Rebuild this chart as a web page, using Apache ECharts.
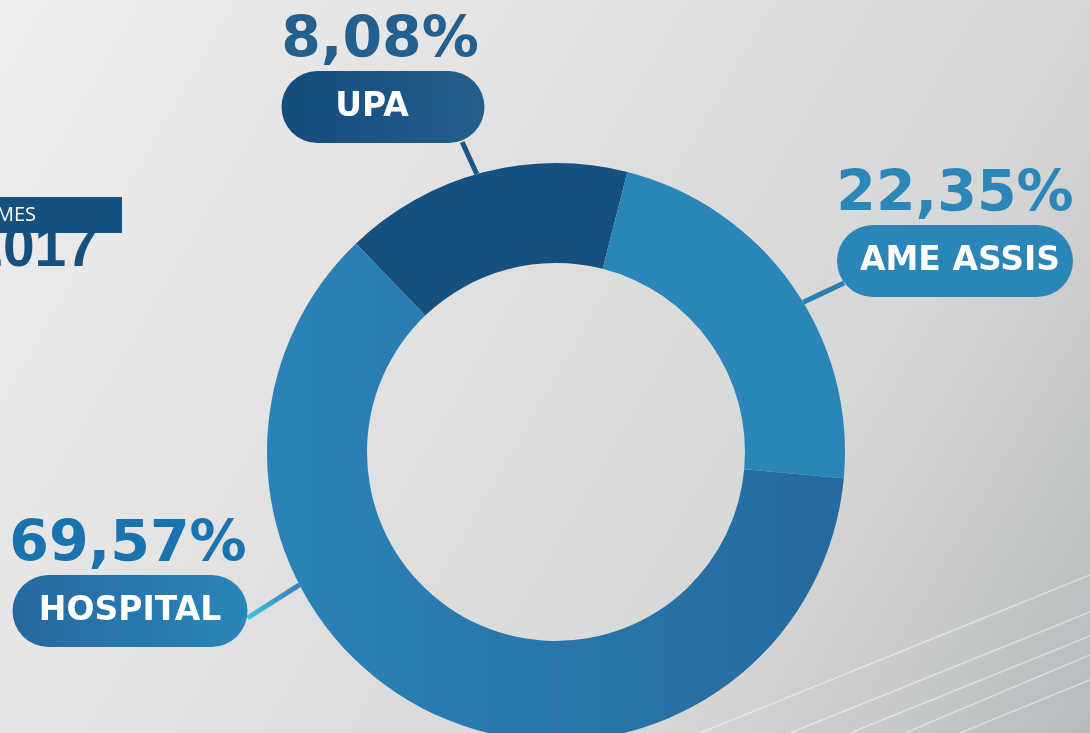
<!DOCTYPE html>
<html>
<head>
<meta charset="utf-8">
<script src="https://cdn.jsdelivr.net/npm/echarts@6/dist/echarts.min.js"></script>
<style>
    html, body { margin: 0; padding: 0; }
    #chart { width: 1090px; height: 733px; }
</style>
</head>
<body>
<div id="chart"></div>
<script>
// categories and the texts printed on the picture
const categories = ["UPA", "AME ASSIS", "HOSPITAL"]
const pctLabels = ["8,08%", "22,35%", "69,57%"]
// share of the ring each slice takes in the drawing (degrees)
const arcShares = [58.1, 80.9, 221.0]

const LG = echarts.graphic.LinearGradient

const CENTER = [556, 452]
const RADIUS = [189, 289]
const START_ANGLE = 133.8

const sliceColors = [
    "#16507f",
    "#2a86b6",
    new LG(0, 0, 1, 0, [
        { offset: 0, color: "#2a83b7" },
        { offset: 1, color: "#25699e" },
    ]),
]
const pctColors = ["#23608f", "#2a87b7", "#1873ae"]
const pillColors = [
    new LG(0, 0, 1, 0, [
        { offset: 0, color: "#134c7d" },
        { offset: 1, color: "#245e8d" },
    ]),
    "#2a86b6",
    new LG(0, 0, 1, 0, [
        { offset: 0, color: "#2568a0" },
        { offset: 1, color: "#2a86b8" },
    ]),
]
const lineColors = [
    "#1d5586",
    "#2a7fb0",
    new LG(0, 0, 1, 0, [
        { offset: 0, color: "#3ec6e6" },
        { offset: 1, color: "#3b78b6" },
    ]),
]
// label blocks: [centre x, top y, pill width, pill text right pad, pct right pad]
const labelBoxes = [
    [383, 13, 203, 22, 6],
    [955, 167, 236, -10, 0],
    [130, 517, 235, 0, 4],
]
const PCT_H = 58
const PILL_H = 72
// where each connector leaves its slice (fraction along the arc)
const connectorAt = [0.48, 0.55, 0.667]
// where each connector meets its pill: [fraction of pill width, px above pill bottom]
const connectorEnd = [[0.89, 1], [0.03, 14], [1.0, 29]]

const chart = echarts.init(document.getElementById("chart"))

function richFor(i) {
    const box = labelBoxes[i]
    const pad = box[3]
    return {
        pct: {
            fontFamily: "DejaVu Sans",
            fontWeight: "bold",
            fontSize: 57,
            lineHeight: PCT_H,
            padding: [0, box[4], 0, 0],
            color: pctColors[i],
            align: "center",
        },
        pill: {
            fontFamily: "DejaVu Sans",
            fontWeight: "bold",
            fontSize: 33,
            color: "#ffffff",
            width: box[2] - Math.abs(pad),
            height: PILL_H,
            lineHeight: PILL_H,
            padding: pad >= 0 ? [0, pad, 0, 0] : [0, 0, 0, -pad],
            align: "center",
            borderRadius: 36,
            backgroundColor: pillColors[i],
        },
    }
}

function connectorPoints(i) {
    const total = arcShares.reduce((a, b) => a + b, 0)
    let before = 0
    for (let k = 0; k < i; k++) before += arcShares[k]
    const a0 = START_ANGLE - (before / total) * 360
    const span = (arcShares[i] / total) * 360
    const a = ((a0 - connectorAt[i] * span) * Math.PI) / 180
    const start = [CENTER[0] + RADIUS[1] * Math.cos(a), CENTER[1] - RADIUS[1] * Math.sin(a)]

    const box = labelBoxes[i]
    const left = box[0] - box[2] / 2
    const bottom = box[1] + PCT_H + PILL_H
    const end = [left + connectorEnd[i][0] * box[2], bottom - connectorEnd[i][1]]
    const mid = [(start[0] + end[0]) / 2, (start[1] + end[1]) / 2]
    return [start, mid, end]
}

const data = categories.map((name, i) => ({
    name: name,
    value: arcShares[i],
    itemStyle: { color: sliceColors[i] },
    label: { rich: richFor(i) },
    labelLine: { lineStyle: { color: lineColors[i] } },
}))

const streaks = [
    [[700, 733], [1090, 575]],
    [[790, 733], [1090, 612]],
    [[850, 733], [1090, 636]],
    [[905, 733], [1090, 655]],
    [[960, 733], [1090, 680]],
]

const option = {
    backgroundColor: new LG(0, 0, 1132, 659, [
        { offset: 0, color: "#eeeeee" },
        { offset: 0.28, color: "#e5e5e5" },
        { offset: 0.54, color: "#dcdcdc" },
        { offset: 0.72, color: "#d6d7d7" },
        { offset: 1, color: "#b8bbbd" },
    ], true),
    animation: false,
    graphic: [
        ...streaks.map((s) => ({
            type: "line",
            silent: true,
            shape: { x1: s[0][0], y1: s[0][1], x2: s[1][0], y2: s[1][1] },
            style: { stroke: "rgba(255,255,255,0.45)", lineWidth: 1.5 },
        })),
        {
            type: "rect",
            shape: { x: -10, y: 197, width: 132, height: 36 },
            style: { fill: "#16507f" },
        },
        {
            type: "text",
            x: -4,
            y: 215,
            style: {
                text: "MES",
                fill: "#ffffff",
                font: "20px 'Open Sans'",
                verticalAlign: "middle",
            },
        },
        {
            type: "text",
            x: 98,
            y: 279,
            style: {
                text: "2017",
                fill: "#16507f",
                font: "bold 57px 'Liberation Sans'",
                align: "right",
                verticalAlign: "bottom",
            },
        },
    ],
    series: [
        {
            type: "pie",
            center: CENTER,
            radius: RADIUS,
            startAngle: START_ANGLE,
            clockwise: true,
            avoidLabelOverlap: false,
            silent: true,
            emphasis: { disabled: true },
            label: {
                show: true,
                position: "outside",
                formatter: (p) => `{pct|${pctLabels[p.dataIndex]}}\n{pill|${p.name}}`,
            },
            labelLine: {
                show: true,
                length: 10,
                length2: 0,
                smooth: false,
                lineStyle: { width: 5 },
            },
            labelLayout: (params) => {
                const i = params.dataIndex
                const box = labelBoxes[i]
                return {
                    x: box[0],
                    y: box[1],
                    align: "center",
                    verticalAlign: "top",
                    labelLinePoints: connectorPoints(i),
                }
            },
            data: data,
        },
    ],
}

chart.setOption(option)
</script>
</body>
</html>
